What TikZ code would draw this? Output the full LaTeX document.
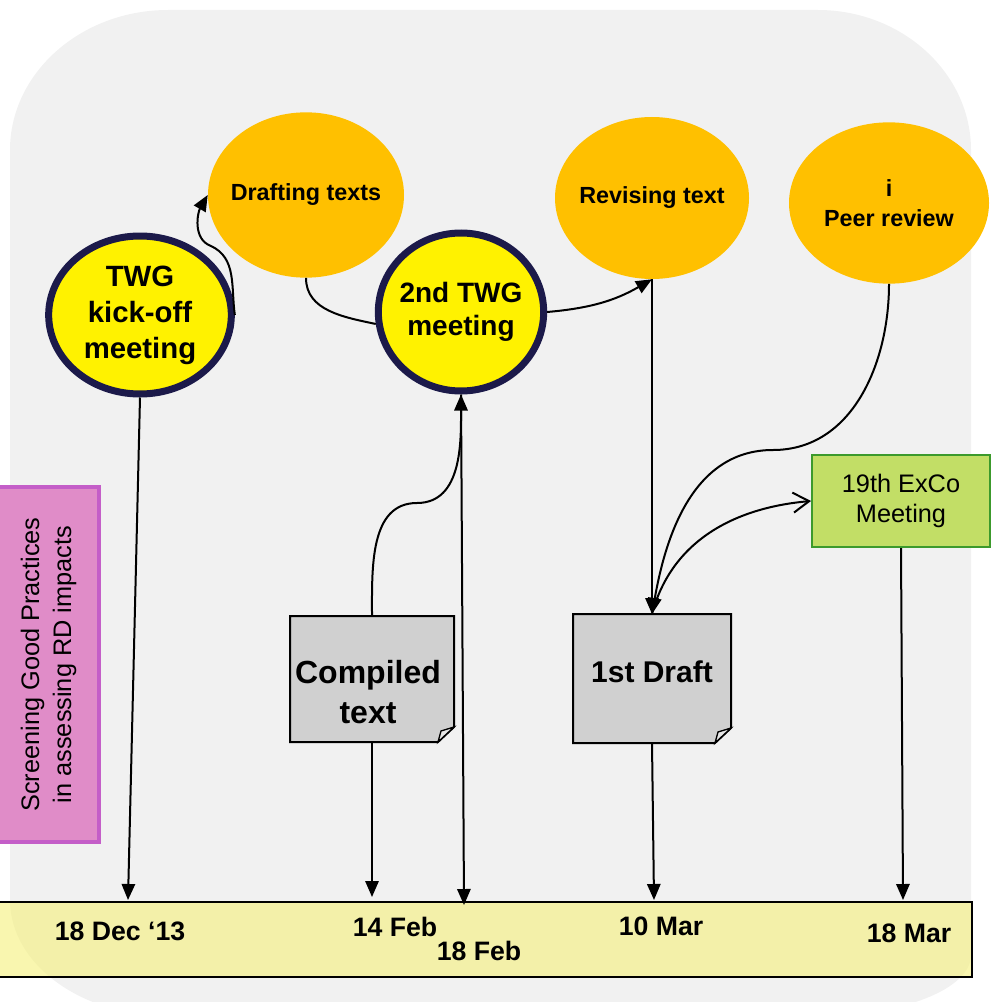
\documentclass[tikz,border=0pt]{standalone}
\usepackage{fontspec}
\setmainfont{Liberation Sans}
\usetikzlibrary{shapes.geometric}
\usetikzlibrary{arrows.meta}

\definecolor{bggray}{HTML}{F1F1F1}
\definecolor{ringnavy}{HTML}{1C1A4A}
\definecolor{taskorange}{HTML}{FFC000}
\definecolor{notegray}{HTML}{D0D0D0}
\definecolor{foldgray}{HTML}{E6E6E6}
\definecolor{excogreen}{HTML}{C2DE66}
\definecolor{excoborder}{HTML}{3C9A2C}
\definecolor{scopefill}{HTML}{E08CC8}
\definecolor{scopeborder}{HTML}{C45EC8}
\definecolor{baryellow}{HTML}{F5F07A}

% zero width line, so the ellipse keeps the size it is given
\newcommand{\nw}[1]{\makebox[0pt]{#1}}

\newcommand{\drawnote}[1]{%
  \draw[line width=1.5pt,fill=notegray] (#1.north west) -- (#1.north east) -- ([yshift=11.25pt]#1.south east)
    -- ([xshift=-12pt]#1.south east) -- (#1.south west) -- cycle;
  \draw[line width=1pt,fill=foldgray] ([yshift=11.25pt]#1.south east) -- ([xshift=-12pt]#1.south east)
    -- ([xshift=-9.75pt,yshift=8.25pt]#1.south east) -- cycle;}

\begin{document}
\begin{tikzpicture}[x=0.75pt,y=-0.75pt,
  meeting/.style={ellipse,draw=ringnavy,line width=5.25pt,fill=yellow,align=center,inner sep=0pt,
    font=\bfseries\fontsize{22}{27}\selectfont},
  task/.style={ellipse,fill=taskorange,align=center,inner sep=0pt,
    font=\bfseries\fontsize{17.5}{22}\selectfont},
  notebox/.style={rectangle,outer sep=0pt,inner sep=0pt},
  notetext/.style={align=center,font=\bfseries\fontsize{24}{30}\selectfont},
  datelabel/.style={anchor=base,font=\bfseries\fontsize{20}{24}\selectfont},
  link/.style={line width=1.5pt,-{Triangle[length=12pt,width=10pt]}},
  plain/.style={line width=1.5pt}]
\useasboundingbox (0,0) rectangle (990,1002);

% background panel
\fill[bggray] (168,10) -- (818,10) .. controls (902,10) and (971,73) .. (971,150) -- (971,955)
  .. controls (971,989) and (902,1016) .. (818,1016) -- (168,1016)
  .. controls (81,1016) and (10,964) .. (10,900) -- (10,150) .. controls (10,73) and (81,10) .. (168,10) -- cycle;

% time line
\node[draw,line width=1.5pt,fill=baryellow,fill opacity=0.6,minimum width=736.5pt,minimum height=56.25pt,
  inner sep=0pt] (timeline) at (481,939.5) {};
\node[datelabel] (lbldec) at (120,940) {18 Dec ‘13};
\node[datelabel] (lblfebA) at (395,936) {14 Feb};
\node[datelabel] (lblfebB) at (479,960) {18 Feb};
\node[datelabel] (lblmarA) at (661,935) {10 Mar};
\node[datelabel] (lblmarB) at (909,942) {18 Mar};
\coordinate (dec18) at (128,900);
\coordinate (feb14) at (372,897);
\coordinate (feb18) at (464,905);
\coordinate (mar10) at (654,900);
\coordinate (mar18) at (903,900);

\node[rectangle,draw=scopeborder,line width=3pt,fill=scopefill,rotate=90,align=center,
  minimum width=266.25pt,minimum height=75.75pt,font=\fontsize{19}{24}\selectfont] (scope) at (48.5,664.5)
  {Screening Good Practices\\in assessing RD impacts};

\node[meeting,minimum width=137pt,minimum height=118.5pt] (kickoff) at (140,315)
  {\nw{TWG}\\\nw{kick-off}\\\nw{meeting}};
\node[task,minimum width=147pt,minimum height=124pt] (drafting) at (306,195) {\nw{Drafting texts}};
\node[meeting,minimum width=124pt,minimum height=118.5pt,font=\bfseries\fontsize{21}{25}\selectfont]
  (twgtwo) at (461,312) {\nw{2nd TWG}\\\nw{meeting}};
\node[task,minimum width=145.5pt,minimum height=121.5pt] (revising) at (652,198) {\nw{Revising text}};
\node[task,minimum width=150pt,minimum height=121pt,font=\bfseries\fontsize{17.5}{22}\selectfont]
  (peer) at (889,203) {\nw{i}\\\nw{Peer review}};

\node[notebox,minimum width=123pt,minimum height=94.5pt] (compiled) at (372,679) {};
\drawnote{compiled}
\node[notetext] (compiledtxt) at (368,692) {Compiled\\text};
\node[notebox,minimum width=118.5pt,minimum height=96.75pt] (draft) at (652,678.5) {};
\drawnote{draft}
\node[notetext,font=\bfseries\fontsize{22.5}{27}\selectfont] (drafttxt) at (652,672) {1st Draft};

\node[rectangle,draw=excoborder,line width=1.5pt,fill=excogreen,minimum width=133.5pt,minimum height=69pt,
  align=center,font=\fontsize{19}{23}\selectfont] (exco) at (901,501) {19th ExCo\\Meeting};

% links between the steps
\draw[link] (kickoff.east) to[out=98,in=-25] (211,246) to[out=160,in=-120] (drafting.west);
\draw[plain] (drafting.south) to[out=-90,in=168] (twgtwo.188);
\draw[link] (twgtwo.east) to[out=5,in=210] (revising.south);
\draw[link] (compiled.north) to[out=90,in=180] (417,503) to[out=0,in=-90] (twgtwo.south);
\draw[link] (revising.south) -- (draft.north);
\draw[link] (peer.south) to[out=-90,in=0] (773,450) to[out=180,in=80] (draft.north);
\draw[plain,-{Straight Barb[length=12pt,width=15pt]}] (draft.north) to[out=75,in=185] (exco.west);

% down to the dates
\draw[link] (kickoff.south) -- (dec18);
\draw[link] (compiled.south) -- (feb14);
\draw[link] (twgtwo.south) -- (feb18);
\draw[link] (draft.south) -- (mar10);
\draw[link] (exco.south) -- (mar18);

\end{tikzpicture}
\end{document}
